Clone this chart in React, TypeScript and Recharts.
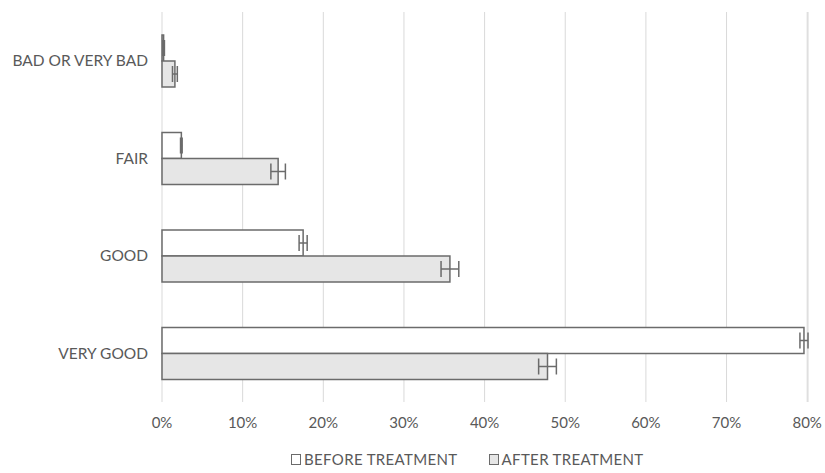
import { BarChart, Bar, XAxis, YAxis, CartesianGrid, Legend, ErrorBar } from 'recharts'

const categories = ['BAD OR VERY BAD', 'FAIR', 'GOOD', 'VERY GOOD']
const beforeValues = [0.2, 2.4, 17.5, 79.6]
const beforeErrors = [0.1, 0.1, 0.5, 0.5]
const afterValues = [1.6, 14.4, 35.7, 47.8]
const afterErrors = [0.3, 0.9, 1.1, 1.1]
const xTicks = [0, 10, 20, 30, 40, 50, 60, 70, 80]

const data = categories.map((name, i) => ({
  name,
  before: beforeValues[i],
  beforeErr: beforeErrors[i],
  after: afterValues[i],
  afterErr: afterErrors[i],
}))

const FONT = 'Lato, "Open Sans", sans-serif'
const TEXT = '#595959'
const EDGE = '#6b6b6b'

// legend like the excel one: small squares + caps text
function LegendBox() {
  const items = [
    { label: 'BEFORE TREATMENT', fill: '#ffffff' },
    { label: 'AFTER TREATMENT', fill: '#e6e6e6' },
  ]
  return (
    <div style={{ display: 'flex', gap: 31, paddingLeft: 291, fontFamily: FONT, fontSize: 15, color: TEXT, lineHeight: '18px', letterSpacing: 0.35 }}>
      {items.map((it) => (
        <div key={it.label} style={{ display: 'flex', alignItems: 'center' }}>
          <span style={{ display: 'inline-block', width: 8, height: 9, border: `1px solid ${EDGE}`, background: it.fill, marginRight: 3 }} />
          <span>{it.label}</span>
        </div>
      ))}
    </div>
  )
}

export default function App() {
  return (
    <div style={{ position: 'absolute', left: 0, top: 0, width: 825, height: 473, background: '#fff' }}>
      <BarChart
        width={825}
        height={473}
        data={data}
        layout="vertical"
        barGap={0}
        margin={{ top: 12, right: 17, left: 0, bottom: 0 }}
      >
        <CartesianGrid horizontal={false} stroke="#d9d9d9" />
        <XAxis
          type="number"
          domain={[0, 80]}
          ticks={xTicks}
          tickFormatter={(v) => `${v}%`}
          axisLine={false}
          tickLine={false}
          tickMargin={9}
          height={50}
          tick={{ fill: TEXT, fontSize: 15, fontFamily: FONT }}
        />
        <YAxis
          type="category"
          dataKey="name"
          width={162}
          axisLine={false}
          tickLine={false}
          tickMargin={8}
          tick={{ fill: TEXT, fontSize: 15.5, fontFamily: FONT }}
        />
        <Legend verticalAlign="bottom" height={21} content={() => <LegendBox />} wrapperStyle={{ bottom: 2 }} />
        <Bar dataKey="before" fill="#ffffff" stroke={EDGE} strokeWidth={1.5} barSize={26} isAnimationActive={false}>
          <ErrorBar dataKey="beforeErr" direction="x" width={8} stroke={EDGE} strokeWidth={1.5} />
        </Bar>
        <Bar dataKey="after" fill="#e6e6e6" stroke={EDGE} strokeWidth={1.5} barSize={26} isAnimationActive={false}>
          <ErrorBar dataKey="afterErr" direction="x" width={8} stroke={EDGE} strokeWidth={1.5} />
        </Bar>
      </BarChart>
    </div>
  )
}
